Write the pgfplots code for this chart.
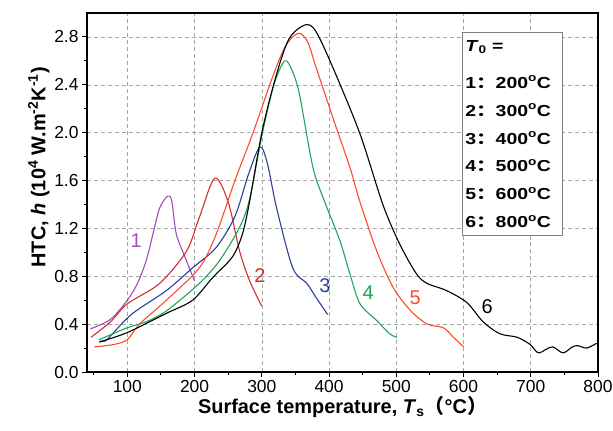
\documentclass[border=0pt]{standalone}
\usepackage{pgfplots}
\pgfplotsset{compat=1.18}
\usepackage{fontspec}
\setmainfont{Liberation Sans}
\newfontfamily\cjk{Noto Sans CJK SC}
\newfontfamily\legfont[FakeStretch=1.22]{Liberation Sans}
\newfontfamily\legcjk[FakeStretch=1.22]{Noto Sans CJK SC}
\definecolor{cpur}{HTML}{A04CC0}
\definecolor{cred}{HTML}{D0302A}
\definecolor{cblu}{HTML}{2A3F9A}
\definecolor{cgrn}{HTML}{1FA55A}
\definecolor{cora}{HTML}{FF4A2A}
\begin{document}
\begin{tikzpicture}
\begin{axis}[
  name=ax,
  scale only axis, width=511bp, height=359bp,
  xmin=40, xmax=800, ymin=0, ymax=3.0,
  xtick={100,200,...,800}, ytick={0,0.4,...,2.8},
  minor xtick={50,150,...,750}, minor ytick={0.2,0.6,...,2.6},
  xtick pos=left, ytick pos=left, tick align=outside,
  major tick length=5pt, minor tick length=3pt,
  every tick/.append style={black, line width=1pt},
  axis line style={line width=1.3pt},
  xmajorgrids, ymajorgrids,
  major grid style={draw=gray!70, dash pattern=on 4pt off 3pt, line width=0.6pt},
  /pgf/number format/assume math mode=true,
  yticklabel style={/pgf/number format/.cd, fixed, fixed zerofill, precision=1},
  ticklabel style={font=\fontsize{17.5}{17.5}\selectfont},
  xlabel={Surface temperature, \textit{T}\textsubscript{s}{\cjk （}°C{\cjk ）}},
  ylabel={HTC, \textit{h} (10\textsuperscript{4} W.m\textsuperscript{-2}K\textsuperscript{-1})},
  label style={font=\fontsize{20}{20}\selectfont\bfseries},
  xlabel style={yshift=3pt},
  ylabel style={at={(ticklabel cs:0.57)}, yshift=-2pt},
  every axis plot/.append style={line width=1.1pt, smooth, tension=0.5},
]
% 1
\addplot[cpur] coordinates {(45,0.36)(75,0.44)(100,0.6)(115,0.74)(128,0.93)(138,1.15)(148,1.37)(160,1.47)(166,1.43)(173,1.15)(188,0.93)(200,0.76)};
% 2
\addplot[cred] coordinates {(46,0.29)(75,0.42)(100,0.57)(148,0.74)(188,1.01)(207,1.29)(230,1.62)(250,1.42)(267,1.01)(282,0.76)(300,0.55)};
% 3
\addplot[cblu] coordinates {(60,0.26)(68,0.26)(78,0.32)(108,0.49)(158,0.68)(197,0.87)(232,1.04)(260,1.3)(280,1.65)(297,1.88)(308,1.75)(322,1.37)(346,0.87)(367,0.74)(381,0.62)(398,0.48)};
% 4
\addplot[cgrn] coordinates {(58,0.27)(100,0.37)(128,0.42)(158,0.51)(207,0.74)(237,0.93)(267,1.21)(282,1.45)(301,2.0)(318,2.4)(334,2.6)(345,2.52)(356,2.32)(376,1.71)(393,1.43)(416,1.1)(431,0.82)(446,0.57)(471,0.43)(490,0.32)(501,0.29)};
% 5
\addplot[cora] coordinates {(51,0.21)(80,0.23)(100,0.27)(118,0.40)(158,0.6)(207,0.87)(232,1.15)(260,1.6)(287,2.0)(315,2.45)(335,2.72)(354,2.83)(368,2.76)(381,2.54)(406,2.12)(431,1.71)(446,1.42)(471,1.01)(495,0.71)(520,0.52)(546,0.40)(570,0.37)(585,0.29)(600,0.21)};
% 6
\addplot[black] coordinates {(58,0.25)(100,0.33)(158,0.49)(197,0.6)(227,0.79)(256,0.96)(271,1.15)(282,1.43)(300,2.0)(320,2.45)(340,2.78)(364,2.9)(380,2.85)(406,2.54)(446,1.99)(480,1.40)(505,1.07)(530,0.82)(546,0.74)(575,0.68)(605,0.58)(629,0.42)(654,0.32)(680,0.29)(699,0.23)(711,0.16)(723,0.19)(733,0.21)(748,0.16)(762,0.21)(770,0.22)(783,0.20)(798,0.24)};
\node[cpur, font=\fontsize{20}{20}\selectfont] at (axis cs:113,1.1) {1};
\node[cred, font=\fontsize{20}{20}\selectfont] at (axis cs:297,0.81) {2};
\node[cblu, font=\fontsize{20}{20}\selectfont] at (axis cs:394,0.72) {3};
\node[cgrn, font=\fontsize{20}{20}\selectfont] at (axis cs:458,0.66) {4};
\node[cora, font=\fontsize{20}{20}\selectfont] at (axis cs:528,0.62) {5};
\node[black, font=\fontsize{20}{20}\selectfont] at (axis cs:635,0.55) {6};
\node[anchor=north west, fill=white, draw=gray, line width=0.6pt, inner sep=3pt,
  font=\fontsize{16}{16}\selectfont\legfont\bfseries, align=left, text width=94bp]
  at (axis cs:598,2.84) {%
  \rule{0pt}{16pt}\textit{T}\textsubscript{0} =\\[21pt]
  1{\legcjk\bfseries ：}200\textsuperscript{o}C\\[12pt]
  2{\legcjk\bfseries ：}300\textsuperscript{o}C\\[12pt]
  3{\legcjk\bfseries ：}400\textsuperscript{o}C\\[12pt]
  4{\legcjk\bfseries ：}500\textsuperscript{o}C\\[12pt]
  5{\legcjk\bfseries ：}600\textsuperscript{o}C\\[12pt]
  6{\legcjk\bfseries ：}800\textsuperscript{o}C\rule[-5pt]{0pt}{0pt}};
\end{axis}
\pgfresetboundingbox
\useasboundingbox ([xshift=-87bp,yshift=-58bp]ax.south west) rectangle ([xshift=15bp,yshift=13bp]ax.north east);
\end{tikzpicture}
\end{document}
